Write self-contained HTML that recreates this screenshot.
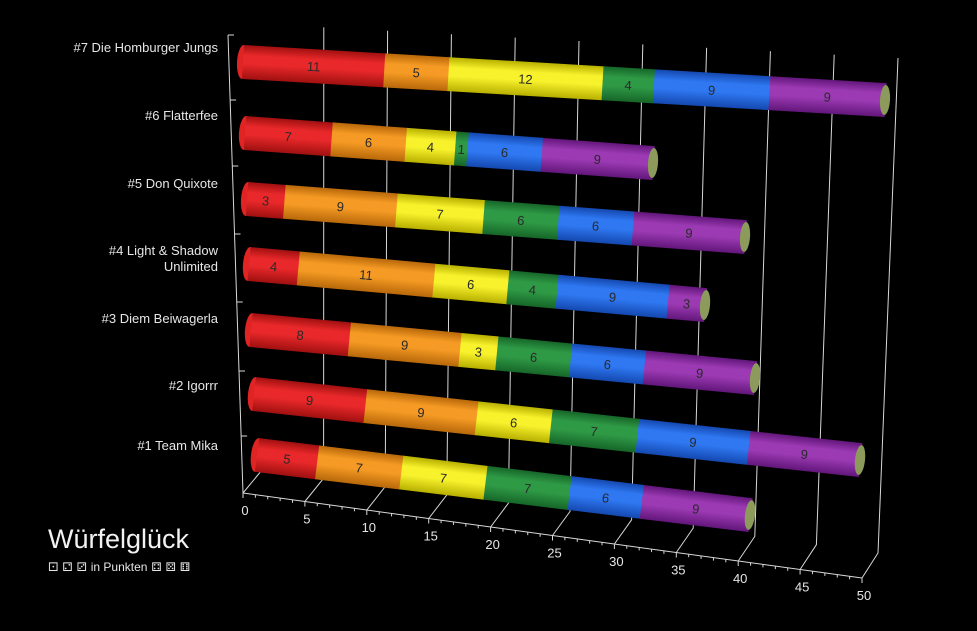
<!DOCTYPE html>
<html><head><meta charset="utf-8"><style>
html,body{margin:0;padding:0;background:#000;}
svg{display:block;font-family:"Liberation Sans","DejaVu Sans",sans-serif;}
</style></head><body>
<svg id="s" width="977" height="631" viewBox="0 0 977 631" xmlns="http://www.w3.org/2000/svg">
<defs id="d"></defs>
<g id="grid" stroke="#d8d8d8" stroke-width="1" fill="none"></g>
<g id="bars"></g>
<g id="txt" fill="#e6e6e6" font-size="13"></g>
<text x="48" y="548" fill="#f2f2f2" font-size="27" font-weight="300">Würfelglück</text>
<text x="48" y="571" fill="#e6e6e6" font-size="12" font-family="DejaVu Sans, sans-serif">⚀ ⚁ ⚂ <tspan font-family="Liberation Sans, sans-serif">in Punkten</tspan> ⚃ ⚄ ⚅</text>
</svg>
<script>
const NS="http://www.w3.org/2000/svg";
function el(t,a,p){const e=document.createElementNS(NS,t);for(const k in a)e.setAttribute(k,a[k]);if(p)p.appendChild(e);return e;}
const grid=document.getElementById('grid'),bars=document.getElementById('bars'),txt=document.getElementById('txt'),defs=document.getElementById('d');
// front axis
function fx(v){return [243+v*12.38,493+v*1.7];}
function bk(v){return [262+v*12.32,470+v*1.66];}
function tp(v){const b=bk(v);return [b[0]+v*0.44-2,24+v*0.68];}
let p0=fx(0),p50=fx(50);
el('line',{x1:p0[0],y1:p0[1],x2:p50[0],y2:p50[1]},grid);
for(let v=0;v<=50;v++){const p=fx(v);el('line',{x1:p[0],y1:p[1],x2:p[0],y2:p[1]+(v%5?3:5)},grid);}
for(let v=0;v<=50;v+=5){const f=fx(v),b=bk(v),t=tp(v);
 if(v>0)el('polyline',{points:`${f[0]},${f[1]} ${b[0]},${b[1]} ${t[0]},${t[1]}`},grid);
 const tx=el('text',{x:f[0]+2,y:f[1]+22,'text-anchor':'middle',fill:'#e6e6e6','font-size':13},txt);tx.textContent=v;}
// left axis
el('line',{x1:228,y1:35,x2:243,y2:493},grid);
el('line',{x1:243,y1:493,x2:262,y2:470},grid);
[35,100,166,234,302,371,436].forEach(y=>{const x=228+(y-35)*15/458;el('line',{x1:x,y1:y,x2:x+6,y2:y},grid);});
// categories
const cats=[["#7 Die Homburger Jungs",52],["#6 Flatterfee",120],["#5 Don Quixote",188],["#4 Light & Shadow|Unlimited",255],["#3 Diem Beiwagerla",323],["#2 Igorrr",390],["#1 Team Mika",450]];
cats.forEach(([n,y])=>{const parts=n.split('|');parts.forEach((s,i)=>{const t=el('text',{x:218,y:y+i*16-(parts.length>1?0:0),'text-anchor':'end'},txt);t.textContent=s;});});
// gradients
const cols=[["#e8282a","#a01010"],["#f59a24","#b8680a"],["#f7f22c","#b8b000"],["#2f9a46","#166628"],["#2f78f2","#1448b0"],["#9c3ab4","#62167a"]];
cols.forEach((c,i)=>{const g=el('linearGradient',{id:'g'+i,x1:0,y1:0,x2:0,y2:1},defs);
 el('stop',{offset:0,'stop-color':c[1]},g);el('stop',{offset:0.3,'stop-color':c[0]},g);el('stop',{offset:0.55,'stop-color':c[0]},g);el('stop',{offset:1,'stop-color':c[1]},g);});
const data=[
 [[11,5,12,4,9,9],243,62,885,100],
 [[7,6,4,1,6,9],245,133,653,163],
 [[3,9,7,6,6,9],247,199,745,237],
 [[4,11,6,4,9,3],249,264,705,305],
 [[8,9,3,6,6,9],251,330,755,378],
 [[9,9,6,7,9,9],254,394,860,460],
 [[5,7,7,7,6,9],257,455,750,515]];
data.forEach(([vals,x1,y1,x2,y2])=>{
 const tot=vals.reduce((a,b)=>a+b,0),L=Math.hypot(x2-x1,y2-y1),ang=Math.atan2(y2-y1,x2-x1)*180/Math.PI;
 const g=el('g',{transform:`translate(${x1},${y1}) rotate(${ang})`},bars);const h=34;
 el('ellipse',{cx:0,cy:0,rx:6,ry:h/2,fill:'#e02424'},g);
 let acc=0;vals.forEach((v,i)=>{const a=acc/tot*L,b=(acc+v)/tot*L;
  el('rect',{x:a,y:-h/2,width:b-a+0.6,height:h,fill:`url(#g${i})`},g);
  const t=el('text',{x:(a+b)/2,y:5,'text-anchor':'middle',fill:'#2a2a2a','font-size':13},g);t.textContent=v;acc+=v;});
 el('ellipse',{cx:L,cy:0,rx:5,ry:h/2-2,fill:'#8c9a5c'},g);
});
</script>
</body></html>
